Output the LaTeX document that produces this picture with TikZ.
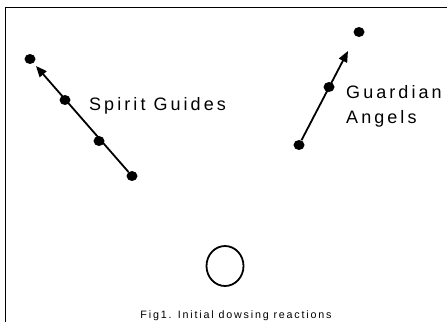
\documentclass[tikz,border=0pt]{standalone}
\usepackage{fontspec}
\setmainfont{Liberation Sans}[LetterSpace=17]
\usetikzlibrary{arrows.meta,shapes.geometric}
\begin{document}
\begin{tikzpicture}[x=1pt,y=-1pt,
  dot/.style={ellipse,fill=black,inner sep=0pt,minimum width=11pt,minimum height=10pt},
  conn/.style={line width=1.8pt,-{Triangle[length=11pt,width=9pt]}},
  lbl/.style={anchor=base west,inner sep=0pt,font=\fontsize{18}{22}\selectfont},
  frame/.style={line width=1pt}]
\useasboundingbox (0,0) rectangle (447,322);
\coordinate (fa) at (5,322);
\coordinate (fb) at (5,7);
\coordinate (fc) at (447,7);
\draw[frame] (fa) -- (fb) -- (fc);
% left group
\node[dot] (a1) at (30,59) {};
\node[dot] (a2) at (65,100) {};
\node[dot] (a3) at (99,141) {};
\node[dot] (a4) at (132,176) {};
\coordinate (at) at (36,66);
\draw[conn] (a4) -- (at);
% right group
\node[dot] (b1) at (359,32) {};
\node[dot] (b2) at (329,87) {};
\node[dot] (b3) at (299,145) {};
\coordinate (bt) at (348,51);
\draw[conn] (b3) -- (bt);
% labels
\node[lbl] (sg) at (89,110) {Spirit Guides};
\node[lbl] (ga) at (346,98) {Guardian};
\node[lbl] (an) at (346,123) {Angels};
% circle
\node[draw,ellipse,line width=1.8pt,minimum width=37pt,minimum height=40pt,inner sep=0pt] (c) at (225,266) {};
% caption
\node[anchor=base,inner sep=0pt,font=\fontsize{10.7}{12}\selectfont] (cap) at (236,318) {Fig1. Initial dowsing reactions};
\end{tikzpicture}
\end{document}
